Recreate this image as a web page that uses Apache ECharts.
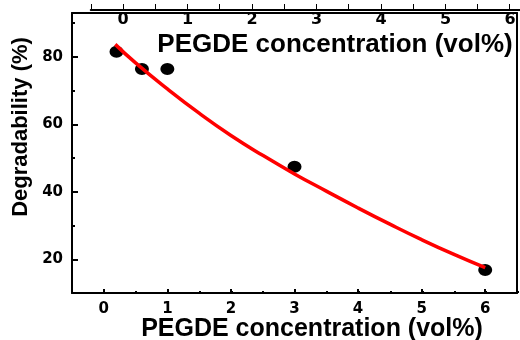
<!DOCTYPE html>
<html>
<head>
<meta charset="utf-8">
<script src="https://cdn.jsdelivr.net/npm/echarts@6/dist/echarts.min.js"></script>
<style>
  html, body { margin: 0; padding: 0; background: #fff; }
  #chart { width: 520px; height: 340px; }
</style>
</head>
<body>
<div id="chart"></div>
<script>
// measured points
const concVol = [0.2, 0.6, 1.0, 3.0, 6.0];
const degradability = [81.5, 76.4, 76.4, 47.4, 16.8];

// red fitted curve
const fitConc = [0.18, 0.5, 1, 1.5, 2, 2.5, 3, 3.5, 4, 4.5, 5, 5.5, 6];
const fitDeg = [83.7, 78.2, 70.5, 63.3, 56.7, 50.8, 45.3, 40.2, 35.2, 30.4, 25.8, 21.5, 17.5];

const xTicks = [0, 1, 2, 3, 4, 5, 6];
const topTicks = [0, 1, 2, 3, 4, 5, 6];
const yTicks = [20, 40, 60, 80];

const xTitle = 'PEGDE concentration (vol%)';
const yTitle = 'Degradability (%)';

const tickFont = { fontFamily: 'DejaVu Sans', fontWeight: 'bold', color: '#000' };
const black = { color: '#000', width: 2 };

const chart = echarts.init(document.getElementById('chart'), null, { renderer: 'canvas' });

const rect = { left: 72, right: 2, top: 13, bottom: 47 };

var option = {
    animation: false,
    backgroundColor: '#fff',
    grid: [
        Object.assign({}, rect),                              // main
        Object.assign({}, rect),                              // minor ticks overlay
        { left: 123, right: 10, top: 13, height: 100 },       // misplaced top labels
        { left: 90.75, right: 0, top: -30, height: 32 }       // strip of the panel above
    ],
    xAxis: [
        {
            gridIndex: 0, type: 'value', position: 'bottom', min: -0.5, max: 6.5,
            axisLine: { onZero: false, lineStyle: black },
            axisTick: { inside: true, length: 4, lineStyle: black },
            axisLabel: Object.assign({ fontSize: 15, margin: 9,
                formatter: v => xTicks.includes(v) ? String(v) : '' }, tickFont),
            splitLine: { show: false }
        },
        {
            gridIndex: 0, type: 'value', position: 'top', min: -0.5, max: 6.5,
            axisLine: { onZero: false, lineStyle: black },
            axisTick: { show: false }, axisLabel: { show: false }, splitLine: { show: false }
        },
        {
            gridIndex: 1, type: 'value', position: 'bottom', min: -0.5, max: 6.5, interval: 0.5,
            axisLine: { show: false, onZero: false },
            axisTick: { inside: true, length: 2, lineStyle: black },
            axisLabel: { show: false }, splitLine: { show: false }
        },
        {
            gridIndex: 2, type: 'value', position: 'top', min: 0, max: 6, interval: 1,
            axisLine: { show: false, onZero: false }, axisTick: { show: false },
            axisLabel: Object.assign({ inside: true, fontSize: 16, margin: -1,
                formatter: v => topTicks.includes(v) ? String(v) : '' }, tickFont),
            splitLine: { show: false }
        },
        {
            gridIndex: 3, type: 'value', position: 'bottom', min: -0.5, max: 6.16, interval: 0.5,
            axisLine: { onZero: false, lineStyle: black },
            axisTick: { inside: true, length: 6, lineStyle: { color: '#000', width: 1 } },
            axisLabel: { show: false }, splitLine: { show: false }
        }
    ],
    yAxis: [
        {
            gridIndex: 0, type: 'value', position: 'left', min: 10, max: 93,
            axisLine: { onZero: false, lineStyle: black },
            axisTick: { inside: true, length: 6, lineStyle: black },
            axisLabel: Object.assign({ fontSize: 15, margin: 9,
                formatter: v => yTicks.includes(v) ? String(v) : '' }, tickFont),
            splitLine: { show: false }
        },
        {
            gridIndex: 0, type: 'value', position: 'right', min: 10, max: 93,
            axisLine: { onZero: false, lineStyle: black },
            axisTick: { show: false }, axisLabel: { show: false }, splitLine: { show: false }
        },
        {
            gridIndex: 1, type: 'value', position: 'left', min: 10, max: 93, interval: 10,
            axisLine: { show: false, onZero: false },
            axisTick: { inside: true, length: 3, lineStyle: black },
            axisLabel: { show: false }, splitLine: { show: false }
        },
        { gridIndex: 2, type: 'value', show: false },
        { gridIndex: 3, type: 'value', show: false }
    ],
    graphic: [
        {
            type: 'text', x: 335, y: 45, z: 10,
            style: { text: xTitle, fontFamily: 'Liberation Sans', fontWeight: 'bold', fontSize: 26,
                fill: '#000', textAlign: 'center', textVerticalAlign: 'middle' }
        },
        {
            type: 'text', x: 312, y: 329,
            style: { text: xTitle, fontFamily: 'Liberation Sans', fontWeight: 'bold', fontSize: 25,
                fill: '#000', textAlign: 'center', textVerticalAlign: 'middle' }
        },
        {
            type: 'text', x: 21, y: 127, rotation: Math.PI / 2,
            style: { text: yTitle, fontFamily: 'Liberation Sans', fontWeight: 'bold', fontSize: 22,
                fill: '#000', textAlign: 'center', textVerticalAlign: 'middle' }
        }
    ],
    series: [
        {
            type: 'scatter', xAxisIndex: 0, yAxisIndex: 0,
            symbol: 'circle', symbolSize: [14, 12],
            itemStyle: { color: '#000', opacity: 1 },
            data: concVol.map((x, i) => [x, degradability[i]]),
            z: 3
        },
        {
            type: 'line', xAxisIndex: 0, yAxisIndex: 0,
            smooth: true, showSymbol: false, symbol: 'none',
            lineStyle: { color: '#ff0000', width: 3.5 },
            data: fitConc.map((x, i) => [x, fitDeg[i]]),
            z: 4
        }
    ]
};

chart.setOption(option);
</script>
</body>
</html>
